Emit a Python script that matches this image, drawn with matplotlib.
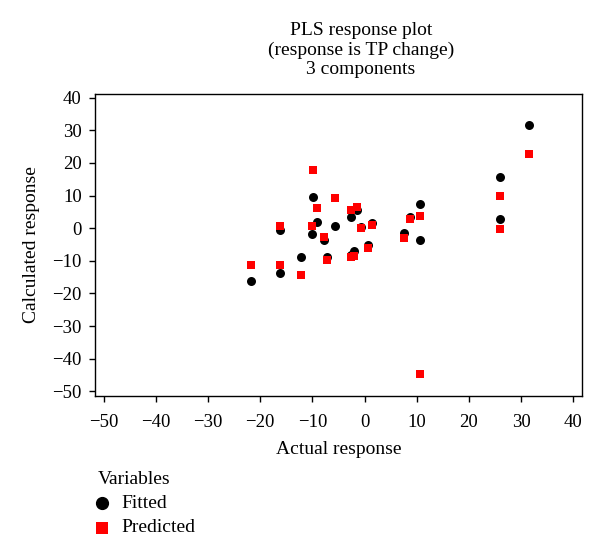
import matplotlib
matplotlib.use("Agg")
import matplotlib.pyplot as plt
from matplotlib.lines import Line2D

plt.rcParams['font.family'] = ['Liberation Serif', 'DejaVu Serif']

actual = [-21.7, -16.2, -16.2, -12.2, -9.9, -10.1, -9.2, -7.8, -7.1, -5.7,
          -2.5, -2.5, -2.0, -1.4, -0.7, 0.6, 1.5, 7.6, 8.8, 10.6, 10.6,
          25.9, 25.9, 31.5]
fitted = [-16.1, -13.6, -0.7, -8.9, 9.6, -1.9, 1.8, -3.6, -8.9, 0.6,
          3.4, -8.2, -6.9, 5.7, 0.3, -5.3, 1.5, -1.5, 3.4, 7.3, -3.5,
          15.6, 2.9, 31.6]
predicted = [-11.3, -11.2, 0.8, -14.3, 17.8, 0.6, 6.2, -2.8, -9.8, 9.3,
             5.5, -8.9, -8.4, 6.5, 0.0, -6.1, 1.1, -3.0, 2.9, 3.6, -44.8,
             9.9, -0.1, 22.6]
xticks = [-50, -40, -30, -20, -10, 0, 10, 20, 30, 40]
yticks = [-50, -40, -30, -20, -10, 0, 10, 20, 30, 40]

W, H = 600, 559
fig = plt.figure(figsize=(6.0, 5.59), dpi=100)
ax = fig.add_axes([95.4 / W, 1 - 396 / H, (581.5 - 95.4) / W, (396 - 94) / H])

ax.scatter(actual, fitted, s=42, marker='o', color='black', linewidths=0, zorder=3)
ax.scatter(actual, predicted, s=40, marker='s', color='#ff0000', linewidths=0, zorder=4)

ax.set_xlim(-51.6, 41.6)
ax.set_ylim(-51.4, 41.1)
ax.set_xticks(xticks)
ax.set_yticks(yticks)
ax.set_xticklabels([str(t).replace('-', '\u2212') for t in xticks])
ax.set_yticklabels([str(t).replace('-', '\u2212') for t in yticks])
ax.tick_params(direction='out', length=4.3, width=1, labelsize=13.5, top=False, right=False)
ax.tick_params(axis='x', pad=8.5)
ax.tick_params(axis='y', pad=5.5)
for sp in ax.spines.values():
    sp.set_linewidth(1.0)

ax.set_xlabel('Actual response', fontsize=14)
ax.xaxis.set_label_coords(0.5, -(441 - 396) / (396 - 94))
ax.set_ylabel('Calculated response', fontsize=14)
ax.yaxis.set_label_coords(-(95.4 - 40) / (581.5 - 95.4), 0.5)

fig.text(361 / W, 1 - 50 / H, 'PLS response plot\n(response is TP change)\n3 components',
         ha='center', va='center', fontsize=14, linespacing=1.15)

# legend
fig.text(98 / W, 1 - 479 / H, 'Variables', ha='left', va='center', fontsize=14)
fig.add_artist(Line2D([102 / W], [1 - 503 / H], marker='o', linestyle='none',
                      color='black', markersize=8.5, transform=fig.transFigure))
fig.text(121.5 / W, 1 - 503 / H, 'Fitted', ha='left', va='center', fontsize=14)
fig.add_artist(Line2D([102 / W], [1 - 528 / H], marker='s', linestyle='none',
                      color='#ff0000', markersize=8.5, markeredgewidth=0,
                      transform=fig.transFigure))
fig.text(121.5 / W, 1 - 528 / H, 'Predicted', ha='left', va='center', fontsize=14)

fig.savefig('out.png', dpi=100)
